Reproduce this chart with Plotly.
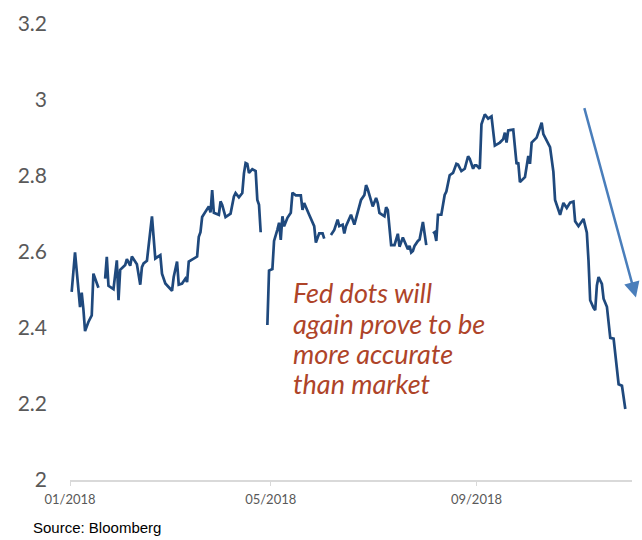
import plotly.graph_objects as go

# Daily series, 2018 (gaps in the record are kept as None)
dates = [
    "2018-01-02", "2018-01-04", "2018-01-07", "2018-01-08", "2018-01-09", "2018-01-10",
    "2018-01-12", "2018-01-14", "2018-01-15", "2018-01-16", "2018-01-18", "2018-01-20",
    "2018-01-22", "2018-01-23", "2018-01-24", "2018-01-26", "2018-01-27", "2018-01-29",
    "2018-01-30", "2018-01-31", "2018-02-03", "2018-02-04", "2018-02-06", "2018-02-07",
    "2018-02-10", "2018-02-12", "2018-02-13", "2018-02-14", "2018-02-16", "2018-02-19",
    "2018-02-21", "2018-02-24", "2018-02-25", "2018-02-27", "2018-03-03", "2018-03-04",
    "2018-03-06", "2018-03-07", "2018-03-09", "2018-03-11", "2018-03-12", "2018-03-13",
    "2018-03-16", "2018-03-18", "2018-03-19", "2018-03-20", "2018-03-21", "2018-03-24",
    "2018-03-25", "2018-03-26", "2018-03-27", "2018-03-28", "2018-03-31", "2018-04-01",
    "2018-04-02", "2018-04-04", "2018-04-07", "2018-04-09", "2018-04-10", "2018-04-12",
    "2018-04-14", "2018-04-15", "2018-04-16", "2018-04-17", "2018-04-18", "2018-04-20",
    "2018-04-22", "2018-04-23", "2018-04-24", "2018-04-25", "2018-04-27", "2018-04-29",
    "2018-04-30", "2018-05-02", "2018-05-03", "2018-05-05", "2018-05-06", "2018-05-07",
    "2018-05-08", "2018-05-09", "2018-05-11", "2018-05-13", "2018-05-14", "2018-05-16",
    "2018-05-19", "2018-05-20", "2018-05-21", "2018-05-24", "2018-05-27", "2018-05-28",
    "2018-05-30", "2018-06-01", "2018-06-02", "2018-06-04", "2018-06-06", "2018-06-08",
    "2018-06-10", "2018-06-11", "2018-06-13", "2018-06-14", "2018-06-15", "2018-06-18",
    "2018-06-20", "2018-06-22", "2018-06-24", "2018-06-26", "2018-06-27", "2018-06-28",
    "2018-06-30", "2018-07-01", "2018-07-03", "2018-07-04", "2018-07-05", "2018-07-07",
    "2018-07-08", "2018-07-09", "2018-07-10", "2018-07-12", "2018-07-14", "2018-07-16",
    "2018-07-17", "2018-07-19", "2018-07-20", "2018-07-22", "2018-07-23", "2018-07-24",
    "2018-07-25", "2018-07-26", "2018-07-28", "2018-07-29", "2018-07-31", "2018-08-02",
    "2018-08-04", "2018-08-06", "2018-08-07", "2018-08-08", "2018-08-09", "2018-08-11",
    "2018-08-13", "2018-08-14", "2018-08-16", "2018-08-18", "2018-08-20", "2018-08-21",
    "2018-08-23", "2018-08-25", "2018-08-27", "2018-08-28", "2018-08-30", "2018-08-31",
    "2018-09-01", "2018-09-03", "2018-09-04", "2018-09-06", "2018-09-08", "2018-09-10",
    "2018-09-12", "2018-09-15", "2018-09-17", "2018-09-18", "2018-09-19", "2018-09-20",
    "2018-09-23", "2018-09-25", "2018-09-26", "2018-09-27", "2018-09-30", "2018-10-02",
    "2018-10-03", "2018-10-04", "2018-10-07", "2018-10-10", "2018-10-11", "2018-10-15",
    "2018-10-17", "2018-10-18", "2018-10-20", "2018-10-21", "2018-10-23", "2018-10-25",
    "2018-10-27", "2018-10-29", "2018-10-30", "2018-11-01", "2018-11-04", "2018-11-06",
    "2018-11-07", "2018-11-08", "2018-11-10", "2018-11-11", "2018-11-12", "2018-11-13",
    "2018-11-15", "2018-11-16", "2018-11-18", "2018-11-20", "2018-11-22", "2018-11-25",
    "2018-11-27", "2018-11-29",
]

values = [
    2.495, 2.599, 2.455, 2.493, 2.450, 2.392,
    2.416, 2.433, 2.543, 2.530, 2.506, None,
    2.530, 2.587, 2.511, 2.506, 2.502, 2.578,
    2.473, 2.553, 2.566, 2.581, 2.564, 2.588,
    2.568, 2.514, 2.560, 2.570, 2.577, 2.694,
    2.583, 2.592, 2.543, 2.517, 2.498, 2.534,
    2.575, 2.514, 2.517, 2.530, 2.521, 2.575,
    2.582, 2.588, 2.640, 2.652, 2.692, 2.711,
    2.720, 2.704, 2.763, 2.703, 2.698, 2.733,
    2.724, 2.692, 2.701, 2.746, 2.755, 2.744,
    2.755, 2.807, 2.834, 2.832, 2.808, 2.818,
    2.813, 2.737, 2.724, 2.652, None, 2.408,
    2.551, 2.555, 2.629, 2.659, 2.677, 2.632,
    2.694, 2.668, 2.690, 2.703, 2.756, 2.749,
    2.749, 2.711, 2.729, 2.698, 2.668, 2.625,
    2.649, 2.649, 2.635, None, 2.645, 2.658,
    2.685, 2.668, 2.672, 2.649, 2.668, 2.698,
    2.672, 2.707, 2.737, 2.750, 2.776, 2.765,
    2.737, 2.720, 2.742, 2.729, 2.703, 2.698,
    2.694, 2.718, 2.710, 2.618, 2.618, 2.648,
    2.614, 2.638, 2.629, 2.607, 2.616, 2.599,
    2.603, 2.616, 2.629, 2.633, 2.679, 2.618,
    None, 2.649, 2.652, 2.629, 2.698, 2.698,
    2.750, 2.759, 2.802, 2.808, 2.832, 2.830,
    2.813, 2.819, 2.852, 2.845, 2.819, 2.828,
    2.828, 2.819, 2.936, 2.962, 2.951, 2.957,
    2.880, 2.888, 2.897, 2.914, 2.888, 2.920,
    2.922, 2.831, 2.836, 2.784, 2.797, 2.853,
    2.832, 2.888, 2.901, 2.940, 2.910, 2.876,
    2.811, 2.737, 2.711, 2.698, 2.729, 2.716,
    2.730, 2.733, 2.681, 2.668, 2.687, 2.651,
    2.577, 2.473, 2.453, 2.447, 2.512, 2.534,
    2.516, 2.477, 2.456, 2.374, 2.372, 2.252,
    2.248, 2.187,
]

x_tick_dates = ["2018-01-01", "2018-05-01", "2018-09-01"]
x_tick_labels = ["01/2018", "05/2018", "09/2018"]
y_tick_values = [2.0, 2.2, 2.4, 2.6, 2.8, 3.0, 3.2]
y_tick_labels = ["2", "2.2", "2.4", "2.6", "2.8", "3", "3.2"]

note_lines = ["Fed dots will", "again prove to be", "more accurate", "than market"]
note_y = [0.411, 0.344, 0.277, 0.212]

LINE_COLOR = "#1F497D"
NOTE_COLOR = "#AE4429"
ARROW_COLOR = "#4A7EBB"
TICK_GREY = "#595959"

fig = go.Figure()
fig.add_trace(go.Scatter(
    x=dates, y=values, mode="lines",
    line=dict(color=LINE_COLOR, width=2.7),
    connectgaps=False, showlegend=False,
))

annotations = []
for txt, yy in zip(note_lines, note_y):
    annotations.append(dict(
        text=f"<i>{txt}</i>", xref="paper", yref="paper",
        x=0.394, y=yy, xanchor="left", yanchor="middle", showarrow=False,
        font=dict(family="Lato", size=27, color=NOTE_COLOR),
    ))

# downward trend arrow at the right edge
annotations.append(dict(
    text="", xref="paper", yref="paper", x=1.007, y=0.400,
    ax=-52, ay=-191, showarrow=True,
    arrowhead=2, arrowsize=1.25, arrowwidth=2.5, arrowcolor=ARROW_COLOR,
))

annotations.append(dict(
    text="Source: Bloomberg", xref="paper", yref="paper",
    x=-0.0694, y=-0.104, xanchor="left", yanchor="middle", showarrow=False,
    font=dict(family="Liberation Sans", size=15, color="#000000"),
))

fig.update_layout(
    width=642, height=540,
    margin=dict(l=70, r=10, t=18, b=60),
    paper_bgcolor="white", plot_bgcolor="white",
    annotations=annotations,
    xaxis=dict(
        type="date", range=["2018-01-01", "2018-12-03"],
        tickvals=x_tick_dates, ticktext=x_tick_labels,
        showgrid=False, zeroline=False,
        showline=True, linecolor="#D9D9D9", linewidth=1.5,
        ticks="outside", ticklen=4, tickcolor="#D9D9D9", tickwidth=1,
        ticklabelstandoff=3,
        tickfont=dict(family="Lato", size=13, color=TICK_GREY),
    ),
    yaxis=dict(
        range=[2.0, 3.2],
        tickvals=y_tick_values, ticktext=y_tick_labels,
        showgrid=False, zeroline=False, showline=False,
        ticks="", ticklabelstandoff=22,
        tickfont=dict(family="Lato", size=21, color=TICK_GREY),
    ),
)

fig.write_html("out.html")
